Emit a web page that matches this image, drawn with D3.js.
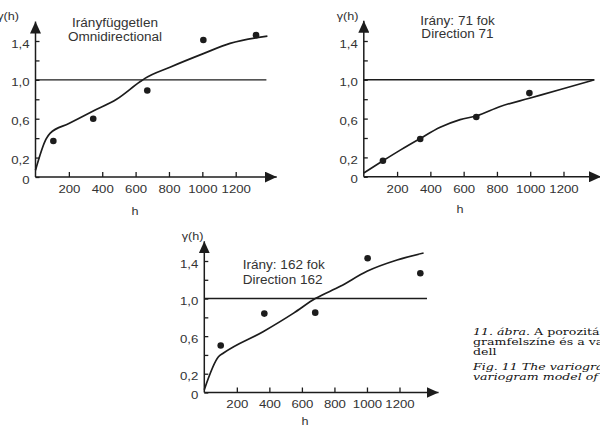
<!DOCTYPE html>
<html>
<head>
<meta charset="utf-8">
<script src="https://cdn.jsdelivr.net/npm/d3@7"></script>
<style>
  body { margin: 0; background: #fff; }
  svg { display: block; }
</style>
</head>
<body>
<div id="chart"></div>
<script>
// tick values shared by the three variograms
var xTicks = [200, 400, 600, 800, 1000, 1200];
var yTicks = [0, 0.2, 0.4, 0.6, 0.8, 1.0, 1.2, 1.4];
var yLabels = [0, 0.2, 0.6, 1.0, 1.4];
var sill = 1.0;

// omnidirectional: experimental points + model
var omniH = [107, 346, 670, 1006, 1322];
var omniG = [0.37, 0.60, 0.89, 1.41, 1.46];
var omniModelH = [0, 63, 87, 200, 346, 486, 626, 656, 806, 1006, 1166, 1390];
var omniModelG = [0.07, 0.39, 0.45, 0.55, 0.68, 0.80, 0.98, 1.015, 1.13, 1.27, 1.375, 1.45];

// direction 71
var d71H = [115, 339, 676, 995];
var d71G = [0.165, 0.39, 0.617, 0.863];
var d71ModelH = [0, 115, 219, 339, 459, 579, 676, 820, 995, 1181, 1385];
var d71ModelG = [0.04, 0.165, 0.275, 0.395, 0.51, 0.59, 0.627, 0.725, 0.81, 0.90, 1.0];

// direction 162
var d162H = [101, 369, 682, 1004, 1328];
var d162G = [0.50, 0.84, 0.85, 1.43, 1.27];
var d162ModelH = [0, 87, 118, 364, 549, 682, 836, 1000, 1185, 1348];
var d162ModelG = [0.03, 0.38, 0.42, 0.65, 0.845, 1.0, 1.13, 1.29, 1.41, 1.485];

var ink = '#1c1c1c', txt = '#333';
var sans = '"Liberation Sans", Arial, sans-serif';
var serif = '"DejaVu Serif", serif';

var panels = [
  { xr: [35.5, 235.7], yr: [177, 41], h: omniH, g: omniG, mh: omniModelH, mg: omniModelG,
    sillEnd: 1384, xEnd: 1446, yEnd: 1.60,
    title: ['Irányfüggetlen', 'Omnidirectional'], tx: 115, ty: [27, 40.5], anchor: 'middle',
    gx: 19, gy: 20, hx: 135, hy: 215 },
  { xr: [363.8, 563.5], yr: [176.8, 41], h: d71H, g: d71G, mh: d71ModelH, mg: d71ModelG,
    sillEnd: 1385, xEnd: 1425, yEnd: 1.61,
    title: ['Irány: 71 fok', 'Direction 71'], tx: 457.5, ty: [24.5, 38], anchor: 'middle',
    gx: 358.5, gy: 20, hx: 460, hy: 213 },
  { xr: [204.3, 399.5], yr: [392.5, 261], h: d162H, g: d162G, mh: d162ModelH, mg: d162ModelG,
    sillEnd: 1369, xEnd: 1440, yEnd: 1.61,
    title: ['Irány: 162 fok', 'Direction 162'], tx: 242.7, ty: [269, 284.3], anchor: 'start',
    gx: 203.5, gy: 240, hx: 305, hy: 425 }
];

var svg = d3.select('#chart').append('svg')
  .attr('width', 600)
  .attr('height', 428)
  .style('background', '#fff');

svg.append('defs').append('marker')
  .attr('id', 'arrow')
  .attr('markerUnits', 'userSpaceOnUse')
  .attr('markerWidth', 13).attr('markerHeight', 11)
  .attr('viewBox', '0 0 13 11')
  .attr('refX', 12).attr('refY', 5.5)
  .attr('orient', 'auto')
  .append('path')
  .attr('d', 'M0,0 L12,5.5 L0,11 Z')
  .attr('fill', ink);

function fmtY(d) {
  if (yLabels.indexOf(d) < 0) return '';
  return d === 0 ? '0' : d3.format('.1f')(d).replace('.', ',');
}

// stretched text, the scan is a bit wider than the font
function label(g, x, y, s, size, sx, anchor) {
  return g.append('text')
    .attr('transform', 'translate(' + x + ',' + y + ') scale(' + sx + ',1)')
    .attr('text-anchor', anchor || 'start')
    .style('font-family', sans)
    .style('font-size', size + 'px')
    .attr('fill', txt)
    .text(s);
}

panels.forEach(function(p) {
  var x = d3.scaleLinear().domain([0, 1200]).range(p.xr);
  var y = d3.scaleLinear().domain([0, 1.4]).range(p.yr);
  var g = svg.append('g');

  var ya = g.append('g')
    .attr('transform', 'translate(' + x(0) + ',0)')
    .call(d3.axisLeft(y).tickValues(yTicks).tickFormat(fmtY).tickSize(-4).tickPadding(5));
  var xa = g.append('g')
    .attr('transform', 'translate(0,' + y(0) + ')')
    .call(d3.axisBottom(x).tickValues(xTicks).tickFormat(d3.format('d')).tickSize(-5).tickPadding(8));
  [ya, xa].forEach(function(a) {
    a.select('.domain').remove();
    a.selectAll('line').attr('stroke', ink).attr('stroke-width', 1.3);
    a.selectAll('text')
      .attr('transform', 'scale(1.2,1)')
      .attr('fill', txt)
      .style('font-family', sans)
      .style('font-size', '11px');
  });
  ya.selectAll('text').attr('dy', '0.55em');

  // axis lines with arrow heads
  g.append('line')
    .attr('x1', x(0)).attr('y1', y(0)).attr('x2', x(p.xEnd)).attr('y2', y(0))
    .attr('stroke', ink).attr('stroke-width', 1.5).attr('marker-end', 'url(#arrow)');
  g.append('line')
    .attr('x1', x(0)).attr('y1', y(0)).attr('x2', x(0)).attr('y2', y(p.yEnd))
    .attr('stroke', ink).attr('stroke-width', 1.5).attr('marker-end', 'url(#arrow)');

  // sill
  g.append('line')
    .attr('x1', x(0)).attr('y1', y(sill)).attr('x2', x(p.sillEnd)).attr('y2', y(sill))
    .attr('stroke', ink).attr('stroke-width', 1.4);

  // model curve
  var line = d3.line()
    .x(function(d) { return x(d[0]); })
    .y(function(d) { return y(d[1]); })
    .curve(d3.curveMonotoneX);
  g.append('path')
    .datum(d3.zip(p.mh, p.mg))
    .attr('d', line)
    .attr('fill', 'none')
    .attr('stroke', ink)
    .attr('stroke-width', 1.7);

  // experimental points
  g.selectAll('circle')
    .data(d3.zip(p.h, p.g))
    .enter()
    .append('circle')
    .attr('cx', function(d) { return x(d[0]); })
    .attr('cy', function(d) { return y(d[1]); })
    .attr('r', 3.3)
    .attr('fill', ink);

  label(g, p.tx, p.ty[0], p.title[0], 12, 1.13, p.anchor);
  label(g, p.tx, p.ty[1], p.title[1], 12, 1.13, p.anchor);
  label(g, p.gx, p.gy, 'γ(h)', 11, 1.15, 'end');
  label(g, p.hx, p.hy, 'h', 11, 1.15, 'middle');
});

// caption, cut by the right edge like in the scan
var cap = svg.append('g')
  .attr('transform', 'translate(473,0) scale(1.26,1)')
  .style('font-family', serif)
  .style('font-size', '10px')
  .attr('fill', '#111');
var l1 = cap.append('text').attr('x', 0).attr('y', 335);
l1.append('tspan').style('font-style', 'italic').text('11. ábra.');
l1.append('tspan').text(' A porozitás vario-');
cap.append('text').attr('x', 0).attr('y', 345.5).text('gramfelszíne és a variogram mo-');
cap.append('text').attr('x', 0).attr('y', 355.5).text('dell');
cap.append('text').attr('x', 0).attr('y', 370.5).style('font-style', 'italic')
  .text('Fig. 11 The variogram surface and the');
cap.append('text').attr('x', 0).attr('y', 380.5).style('font-style', 'italic')
  .text('variogram model of porosity');
</script>
</body>
</html>
